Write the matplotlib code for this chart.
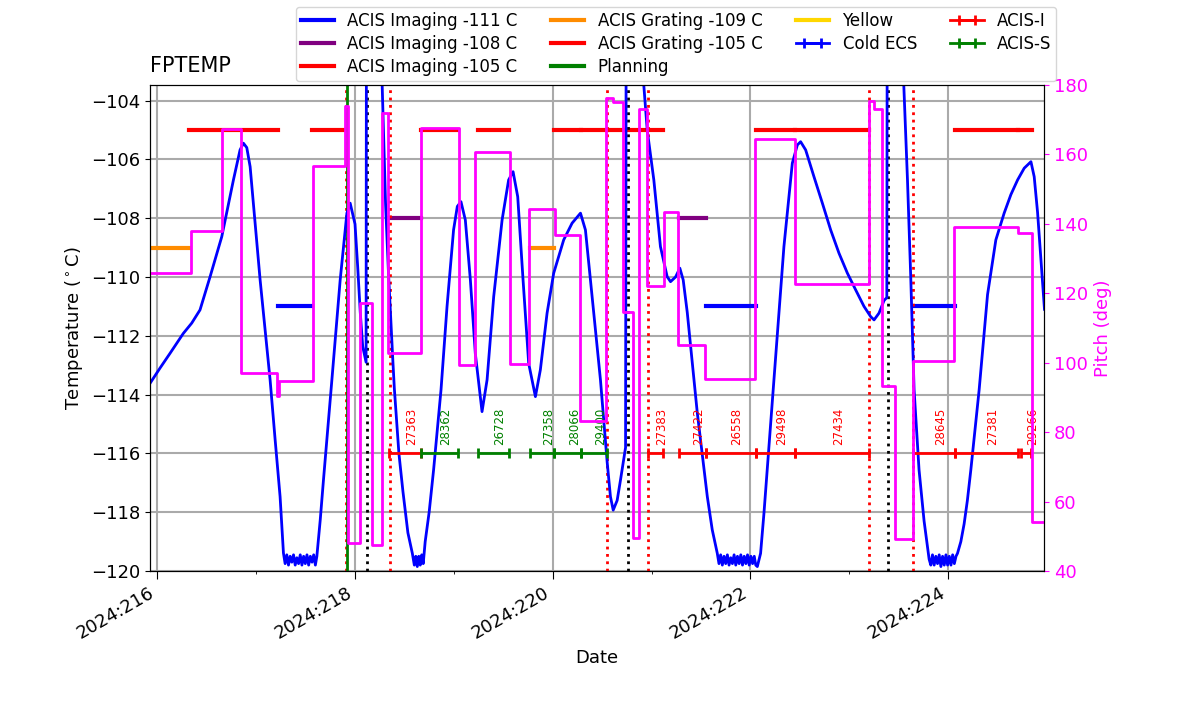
import numpy as np
import matplotlib
matplotlib.use('Agg')
import matplotlib.pyplot as plt
from matplotlib.lines import Line2D
from matplotlib.ticker import MultipleLocator, FuncFormatter

# FPTEMP model, time in 2024 day-of-year, temperature in deg C
temp_time = [
    215.926, 216.027, 216.128, 216.263, 216.348, 216.432, 216.534, 216.652, 216.770, 216.837,
    216.871, 216.905, 216.939, 216.989, 217.040, 217.091, 217.141, 217.192, 217.242, 217.276,
    217.293, 217.310, 217.327, 217.344, 217.361, 217.378, 217.395, 217.412, 217.429, 217.446,
    217.463, 217.480, 217.497, 217.514, 217.531, 217.548, 217.565, 217.582, 217.599,
    217.614, 217.648, 217.681, 217.724, 217.766, 217.808, 217.850, 217.884, 217.918, 217.951,
    218.000, 218.027, 218.053, 218.078, 218.112,
    218.122, 218.190, 218.262, 218.275,
    218.309, 218.339, 218.382, 218.398, 218.444, 218.485, 218.535, 218.580, 218.600, 218.615,
    218.630, 218.645, 218.660, 218.675, 218.690, 218.710, 218.750, 218.795, 218.870, 218.931,
    218.997, 219.035, 219.072, 219.116, 219.167, 219.217, 219.285, 219.336, 219.403, 219.488,
    219.554, 219.599, 219.646, 219.700, 219.757, 219.825, 219.875, 219.943, 220.010, 220.111,
    220.196, 220.281, 220.331, 220.382, 220.432, 220.483, 220.551, 220.584, 220.612, 220.652,
    220.686, 220.737,
    220.752, 220.830, 220.905, 220.922,
    220.956, 221.023, 221.090, 221.158, 221.192, 221.243, 221.286, 221.320, 221.361, 221.462,
    221.564, 221.614, 221.665,
    221.682, 221.699, 221.716, 221.733, 221.750, 221.767, 221.784, 221.801, 221.818, 221.835,
    221.852, 221.869, 221.886, 221.903, 221.920, 221.937, 221.954, 221.971, 221.988, 222.005,
    222.022, 222.039, 222.054,
    222.070, 222.103, 222.137, 222.187, 222.238, 222.289, 222.339, 222.424, 222.475, 222.508,
    222.559, 222.643, 222.728, 222.812, 222.896, 222.981, 223.065, 223.149, 223.217, 223.251,
    223.301, 223.352, 223.380,
    223.393, 223.470, 223.536, 223.552,
    223.589, 223.622, 223.656, 223.706, 223.757, 223.808,
    223.825, 223.842, 223.859, 223.876, 223.893, 223.910, 223.927, 223.944, 223.961, 223.978,
    223.995, 224.012, 224.029, 224.046, 224.063, 224.080,
    224.095, 224.129, 224.162, 224.195, 224.230, 224.314, 224.399, 224.483, 224.567, 224.635,
    224.703, 224.770, 224.838, 224.871, 224.905, 224.939, 224.975,
]
temp_vals = [
    -113.62, -113.10, -112.60, -111.92, -111.57, -111.12, -109.99, -108.63, -106.70, -105.68,
    -105.45, -105.60, -106.25, -108.17, -110.10, -111.80, -113.50, -115.54, -117.47, -119.39,
    -119.75, -119.45, -119.80, -119.50, -119.70, -119.45, -119.80, -119.55, -119.75, -119.45,
    -119.80, -119.50, -119.75, -119.45, -119.80, -119.50, -119.70, -119.45, -119.80,
    -119.50, -118.27, -116.90, -115.20, -113.50, -111.80, -110.10, -108.97, -107.83, -107.49,
    -108.20, -109.65, -111.20, -112.37, -112.90,
    -80.0, -60.0, -70.0, -103.5,
    -107.50, -109.90, -112.80, -113.80, -116.00, -117.30, -118.70, -119.40, -119.80, -119.50,
    -119.85, -119.50, -119.80, -119.45, -119.75, -119.00, -118.00, -116.56, -113.84, -111.00,
    -108.40, -107.60, -107.44, -108.06, -110.10, -112.60, -114.58, -113.50, -110.67, -108.06,
    -106.70, -106.42, -107.27, -110.10, -112.94, -114.07, -113.16, -111.23, -109.87, -108.74,
    -108.17, -107.83, -108.40, -110.10, -111.80, -113.50, -116.30, -117.47, -117.93, -117.60,
    -116.90, -115.80,
    -80.0, -60.0, -75.0, -103.5,
    -105.00, -106.70, -108.97, -109.99, -110.16, -110.00, -109.70, -110.10, -111.20, -114.60,
    -117.47, -118.60, -119.40,
    -119.75, -119.45, -119.80, -119.50, -119.75, -119.45, -119.80, -119.55, -119.75, -119.45,
    -119.80, -119.50, -119.75, -119.45, -119.80, -119.50, -119.75, -119.45, -119.80, -119.50,
    -119.75, -119.50, -119.80,
    -119.85, -119.40, -118.04, -115.77, -113.50, -111.23, -108.97, -106.13, -105.51, -105.40,
    -105.68, -106.59, -107.49, -108.40, -109.19, -109.87, -110.44, -111.00, -111.35, -111.46,
    -111.23, -110.80, -110.70,
    -80.0, -60.0, -75.0, -103.5,
    -106.70, -110.00, -113.84, -116.56, -118.30, -119.60,
    -119.80, -119.45, -119.80, -119.50, -119.75, -119.45, -119.85, -119.50, -119.80, -119.45,
    -119.80, -119.50, -119.80, -119.45, -119.75, -119.50,
    -119.40, -119.00, -118.40, -117.60, -116.56, -113.84, -110.60, -108.74, -107.83, -107.20,
    -106.70, -106.30, -106.08, -106.59, -107.80, -109.42, -111.10,
]

# pitch (deg), held constant from each time to the next
pitch_time = [
    215.926, 216.338, 216.652, 216.845, 217.215, 217.226, 217.574, 217.894, 217.929, 218.046,
    218.171, 218.278, 218.335, 218.667, 219.048, 219.217, 219.572, 219.757, 220.020, 220.273,
    220.541, 220.612, 220.713, 220.814, 220.876, 220.956, 221.124, 221.266, 221.536, 222.043,
    222.448, 223.200, 223.251, 223.336, 223.465, 223.645, 224.064, 224.706, 224.852, 224.975,
]
pitch_vals = [
    125.8, 137.8, 167.3, 97.0, 90.3, 94.6, 156.6, 174.0, 48.0, 117.1,
    47.5, 171.9, 102.7, 167.5, 99.4, 160.8, 99.7, 144.2, 136.8, 83.3,
    176.2, 175.2, 114.7, 49.4, 173.0, 122.1, 143.3, 105.1, 95.2, 164.4,
    122.7, 175.5, 173.0, 93.3, 49.1, 100.6, 139.0, 137.3, 54.2, 54.2,
]

# planning limits per interval
limit_start = [215.926, 216.325, 217.217, 217.562, 218.346, 218.667, 219.241, 219.767, 220.017,
               220.288, 220.551, 221.276, 221.546, 222.053, 222.451, 223.640, 224.068, 224.709]
limit_stop = [216.325, 217.217, 217.562, 217.900, 218.667, 219.042, 219.562, 220.017, 220.288,
              220.551, 221.120, 221.546, 222.053, 222.451, 223.200, 224.068, 224.709, 224.852]
limit_kind = ['grating_109', 'imaging_105', 'imaging_111', 'grating_105', 'imaging_108',
              'grating_105', 'grating_105', 'grating_109', 'grating_105', 'grating_105',
              'imaging_105', 'imaging_108', 'imaging_111', 'imaging_105', 'imaging_105',
              'imaging_111', 'imaging_105', 'imaging_105']

# observations
obsid_id = [27363, 28362, 26728, 27358, 28066, 29400, 27383, 27422, 26558, 29498, 27434,
            28645, 27381, 29266]
obsid_start = [218.346, 218.667, 219.241, 219.767, 220.017, 220.288, 220.966, 221.276, 221.546,
               222.053, 222.451, 223.640, 224.068, 224.736]
obsid_stop = [218.667, 219.042, 219.562, 220.017, 220.288, 220.551, 221.114, 221.546, 222.053,
              222.451, 223.200, 224.068, 224.709, 224.838]
obsid_instr = ['ACIS-I', 'ACIS-S', 'ACIS-S', 'ACIS-S', 'ACIS-S', 'ACIS-S', 'ACIS-I', 'ACIS-I',
               'ACIS-I', 'ACIS-I', 'ACIS-I', 'ACIS-I', 'ACIS-I', 'ACIS-I']

# radzone edges, perigees, planning time
radzone_times = [217.908, 218.349, 220.551, 220.966, 223.200, 223.640]
perigee_times = [218.121, 220.759, 223.396]
plan_time = 217.924

limits = {
    'imaging_111': (-111.0, 'blue', 'ACIS Imaging -111 C'),
    'imaging_108': (-108.0, 'purple', 'ACIS Imaging -108 C'),
    'imaging_105': (-105.0, 'red', 'ACIS Imaging -105 C'),
    'grating_109': (-109.0, 'darkorange', 'ACIS Grating -109 C'),
    'grating_105': (-105.0, 'red', 'ACIS Grating -105 C'),
}
instr_color = {'ACIS-I': 'red', 'ACIS-S': 'green'}

fig = plt.figure(figsize=(12, 7.14), dpi=100)
ax = fig.add_axes([0.125, 0.2003, 0.7454, 0.6807])

ax.grid(True, color='#aaaaaa', lw=1.5)
ax.set_axisbelow(True)

for t0, t1, kind in zip(limit_start, limit_stop, limit_kind):
    val, col, _ = limits[kind]
    ax.plot([t0, t1], [val, val], color=col, lw=3)

for t in radzone_times:
    ax.axvline(t, color='red', ls=':', lw=2)
for t in perigee_times:
    ax.axvline(t, color='black', ls=':', lw=2)
ax.axvline(plan_time, color='green', lw=2)

ax.plot(temp_time, temp_vals, color='blue', lw=2)

obs_y = -116.0
eb_handles = {}
for oid, t0, t1, ins in zip(obsid_id, obsid_start, obsid_stop, obsid_instr):
    mid = 0.5 * (t0 + t1)
    eb = ax.errorbar([mid], [obs_y], xerr=[0.5 * (t1 - t0)], color=instr_color[ins],
                     lw=2, capsize=3.5, capthick=2)
    eb_handles[ins] = eb
    ax.text(mid, obs_y + 0.27, str(oid), rotation=90, fontsize=8.5, color=instr_color[ins],
            ha='left', va='bottom')
cold_ecs = ax.errorbar([np.nan], [np.nan], xerr=[np.nan], color='blue', lw=2,
                       capsize=3.5, capthick=2)

ax.set_xlim(215.926, 224.975)
ax.set_ylim(-120, -103.47)
ax.xaxis.set_major_locator(MultipleLocator(2))
ax.xaxis.set_minor_locator(MultipleLocator(1))
ax.xaxis.set_major_formatter(FuncFormatter(lambda v, p: '2024:%03d' % int(round(v))))
ax.yaxis.set_major_locator(MultipleLocator(2))
ax.tick_params(labelsize=13)
ax.tick_params(axis='x', which='major', length=6)
for lab in ax.get_xticklabels():
    lab.set_rotation(30)
    lab.set_ha('right')
ax.set_xlabel('Date', fontsize=13)
ax.set_ylabel(r'Temperature ($^\circ$C)', fontsize=13)
ax.set_title('FPTEMP', loc='left', fontsize=15, pad=9.5)

ax2 = ax.twinx()
ax2.plot(pitch_time, pitch_vals, color='magenta', lw=2, drawstyle='steps-post')
ax2.set_ylim(40, 180)
ax2.set_ylabel('Pitch (deg)', color='magenta', fontsize=13)
ax2.tick_params(axis='y', colors='magenta', labelsize=13)
ax2.spines['right'].set_color('black')

handles = [Line2D([], [], color=limits[k][1], lw=3) for k in
           ['imaging_111', 'imaging_108', 'imaging_105', 'grating_109', 'grating_105']]
handles += [Line2D([], [], color='green', lw=3), Line2D([], [], color='gold', lw=3),
            cold_ecs, eb_handles['ACIS-I'], eb_handles['ACIS-S']]
labels = [limits[k][2] for k in
          ['imaging_111', 'imaging_108', 'imaging_105', 'grating_109', 'grating_105']]
labels += ['Planning', 'Yellow', 'Cold ECS', 'ACIS-I', 'ACIS-S']
fig.legend(handles, labels, loc='upper center', bbox_to_anchor=(676 / 1200, 1 - 7 / 714),
           borderaxespad=0, ncol=4, fontsize=12, labelspacing=0.3, borderpad=0.3)

fig.savefig('out.png', dpi=100)
